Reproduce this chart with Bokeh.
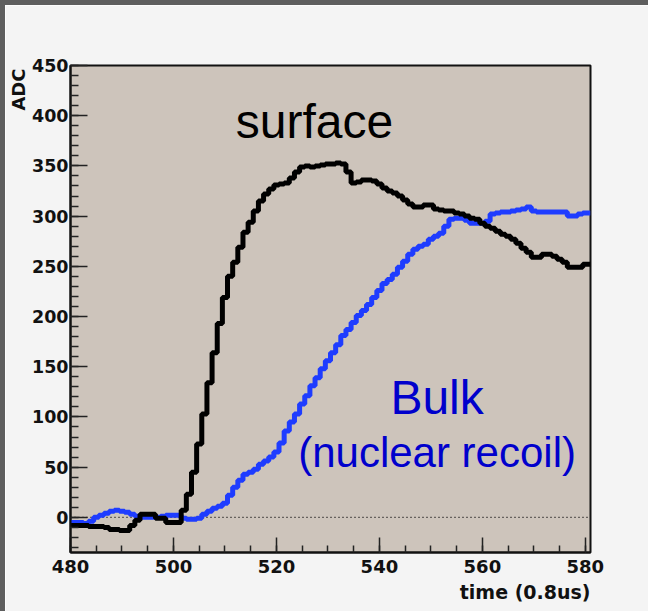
import numpy as np
from bokeh.plotting import figure
from bokeh.layouts import row, column
from bokeh.models import SingleIntervalTicker, Title, Div
from bokeh.core.properties import value
from bokeh.embed import file_html
from bokeh.resources import INLINE

# ---- data (bin centres, width 1) ----
time = list(range(480, 581))

surface = [
    -8, -8, -8, -8, -9, -9, -9, -10, -12, -12,      # 480-489
    -13, -13, -8, -3, 3, 3, 3, -1, -1, -5,          # 490-499
    -5, -5, 7, 23, 45, 73, 103, 134, 164, 193,      # 500-509
    219, 240, 254, 269, 284, 294, 305, 315, 322, 327,  # 510-519
    331, 332, 333, 338, 344, 349, 350, 349, 350, 351,  # 520-529
    352, 352, 353, 352, 344, 333, 334, 336, 336, 335,  # 530-539
    332, 328, 325, 323, 320, 316, 312, 309, 309, 311,  # 540-549
    311, 307, 306, 305, 305, 303, 302, 300, 298, 297,  # 550-559
    293, 290, 288, 285, 282, 280, 277, 273, 268, 264,  # 560-569
    259, 259, 262, 262, 260, 257, 254, 249, 249, 249,  # 570-579
    252,                                               # 580
]

bulk = [
    -5, -5, -5, -6, -4, 0, 2, 4, 6, 7,              # 480-489
    6, 5, 3, 1, 0, 0, 0, 0, 1, 2,                   # 490-499
    2, 2, -1, -2, -2, -1, 3, 6, 9, 11,              # 500-509
    14, 22, 30, 37, 43, 45, 48, 53, 56, 60,         # 510-519
    65, 74, 86, 95, 103, 113, 121, 131, 139, 148,   # 520-529
    156, 164, 172, 181, 187, 194, 201, 206, 212, 219,  # 530-539
    226, 233, 237, 242, 249, 255, 262, 267, 270, 272,  # 540-549
    277, 280, 283, 290, 297, 298, 298, 296, 293, 293,  # 550-559
    293, 295, 302, 303, 304, 304, 305, 306, 307, 309,  # 560-569
    305, 304, 304, 304, 304, 304, 304, 300, 300, 302,  # 570-579
    303,                                               # 580
]

x_start, x_end = 480, 581
y_start, y_end = -35, 450

# ---- figure ----
p = figure(width=643, height=606, x_range=(x_start, x_end), y_range=(y_start, y_end),
           output_backend="svg", toolbar_location=None,
           background_fill_color="#cdc4bb", border_fill_color="#f4f4f4",
           min_border_left=64, min_border_right=58, min_border_top=60, min_border_bottom=59)
p.xgrid.visible = False
p.ygrid.visible = False
p.outline_line_color = "#111111"
p.outline_line_width = 2

p.xaxis.ticker = SingleIntervalTicker(interval=20, num_minor_ticks=4)
p.yaxis.ticker = SingleIntervalTicker(interval=50, num_minor_ticks=5)
for ax in (p.xaxis, p.yaxis):
    ax.axis_line_color = "#111111"
    ax.axis_line_width = 2
    ax.major_tick_out = 0
    ax.minor_tick_out = 0
    ax.major_tick_line_color = "#222222"
    ax.minor_tick_line_color = "#222222"
    ax.major_tick_line_width = 1.5
    ax.minor_tick_line_width = 1.5
    ax.major_label_text_font = "DejaVu Sans"
    ax.major_label_text_font_style = "bold"
    ax.major_label_text_color = "#111111"
p.xaxis.major_label_text_font_size = "18px"
p.yaxis.major_label_text_font_size = "17.5px"
p.yaxis.major_label_standoff = 2
p.xaxis.major_label_standoff = 7
p.xaxis.major_tick_in = 15
p.xaxis.minor_tick_in = 7
p.yaxis.major_tick_in = 17
p.yaxis.minor_tick_in = 8

# zero reference
p.line([x_start, x_end], [0, 0], line_color="black", line_width=1.3, line_dash="1 3")

def step_edges(t):
    t = np.asarray(t, dtype=float)
    return np.append(t - 0.5, x_end)

def step_vals(v):
    return np.append(np.asarray(v, dtype=float), v[-1])

p.step(step_edges(time), step_vals(bulk), mode="after", line_color="#1e3cff", line_width=5)
p.step(step_edges(time), step_vals(surface), mode="after", line_color="black", line_width=5)

# annotations in the frame
p.text(x=[527.4], y=[394], text=["surface"], text_font=value("Liberation Sans"),
       text_font_size="48px", text_color="black", text_align="center", text_baseline="alphabetic")
p.text(x=[551.2], y=[119], text=["Bulk"], text_font=value("Liberation Sans"),
       text_font_size="48px", text_color="#0000cc", text_align="center", text_baseline="alphabetic")
p.text(x=[551.2], y=[65], text=["(nuclear recoil)"], text_font=value("Liberation Sans"),
       text_font_size="42px", text_color="#0000cc", text_align="center", text_baseline="alphabetic")

# axis titles (ROOT style: at the far end of each axis)
p.add_layout(Title(text="ADC", align="right", text_font="DejaVu Sans",
                   text_font_style="bold", text_font_size="18px", text_color="#111111",
                   text_line_height=0.8, standoff=0, offset=3), "left")
p.add_layout(Title(text="time (0.8us)", align="right", text_font="DejaVu Sans",
                   text_font_style="bold", text_font_size="19px", text_color="#111111",
                   standoff=6), "below")

# dark window edge (top and left strips)
strip_left = Div(width=5, height=611, margin=0, styles={"background-color": "#5e5e5e"})
strip_top = Div(width=643, height=5, margin=0, styles={"background-color": "#5e5e5e"})
page = row(strip_left, column(strip_top, p, spacing=0), spacing=0)

html = file_html(page, INLINE)
html = html.replace("<head>", "<head><style>html,body{margin:0;padding:0;overflow:hidden;}</style>", 1)
open("out.html", "w").write(html)
